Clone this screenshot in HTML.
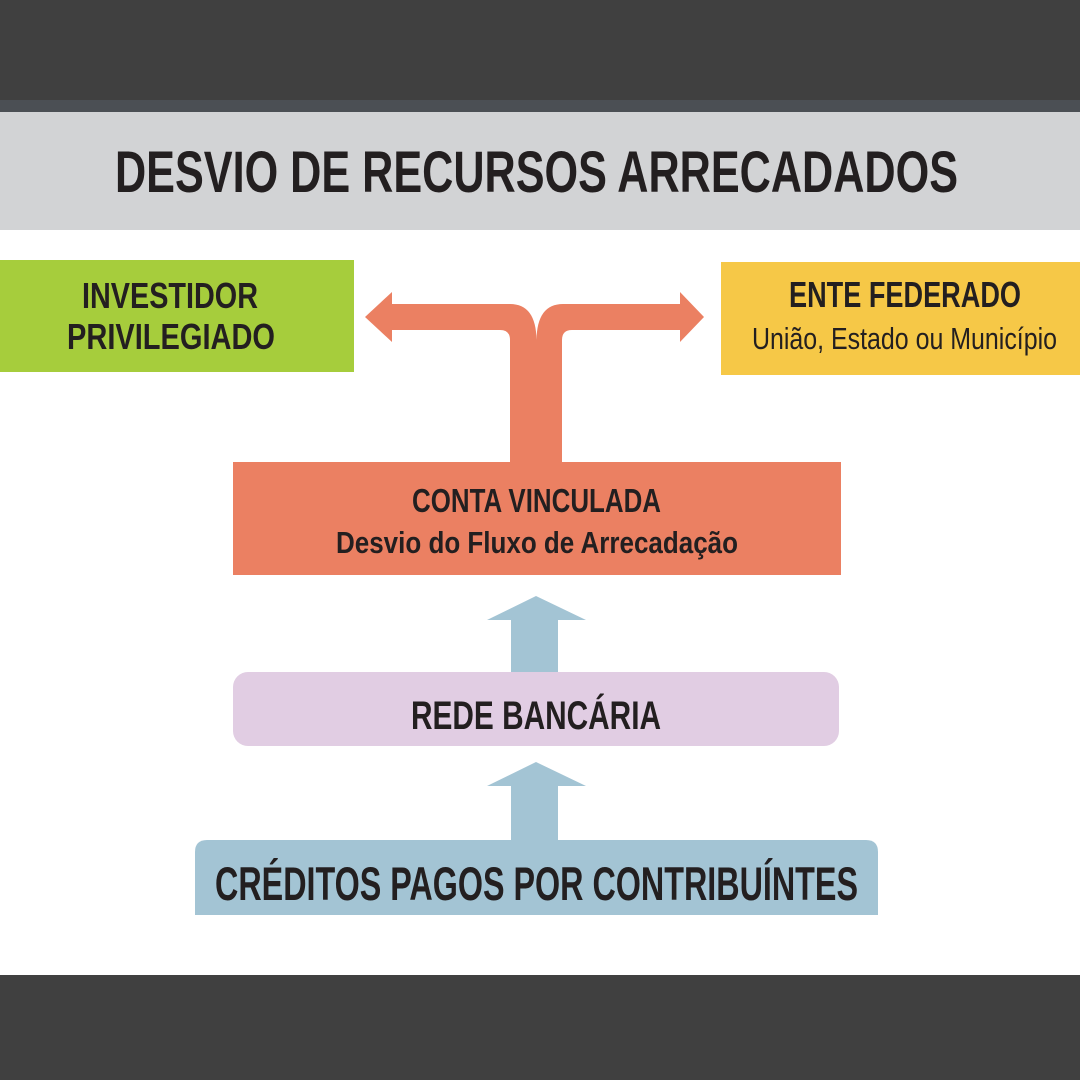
<!DOCTYPE html>
<html><head><meta charset="utf-8"><style>
html,body{margin:0;padding:0;background:#fff}
svg{display:block}
text{font-family:"Liberation Sans Narrow","Liberation Sans",sans-serif;fill:#231f20}
.b{font-weight:bold}
</style></head><body>
<svg width="1080" height="1080" viewBox="0 0 1080 1080" xmlns="http://www.w3.org/2000/svg">
<rect x="0" y="0" width="1080" height="1080" fill="#fff"/>
<rect x="0" y="0" width="1080" height="100" fill="#404040"/>
<rect x="0" y="100" width="1080" height="12" fill="#4b4f54"/>
<rect x="0" y="112" width="1080" height="118" fill="#d2d3d5"/>
<rect x="0" y="975" width="1080" height="105" fill="#404040"/>
<text class="b" x="115" y="192" font-size="58" textLength="843" lengthAdjust="spacingAndGlyphs">DESVIO DE RECURSOS ARRECADADOS</text>

<rect x="0" y="260" width="354" height="112" fill="#a6cd3c"/>
<text class="b" x="82" y="308" font-size="36" textLength="176" lengthAdjust="spacingAndGlyphs">INVESTIDOR</text>
<text class="b" x="67" y="349" font-size="36" textLength="208" lengthAdjust="spacingAndGlyphs">PRIVILEGIADO</text>

<rect x="721" y="262" width="359" height="113" fill="#f6c847"/>
<text class="b" x="789" y="307" font-size="36" textLength="232" lengthAdjust="spacingAndGlyphs">ENTE FEDERADO</text>
<text x="752" y="349" font-size="31" textLength="305" lengthAdjust="spacingAndGlyphs">União, Estado ou Município</text>

<g fill="#eb8062">
<path d="M365 317 L392 292 L392 304 L510 304 Q536 304 536.5 340 L536.5 470 L510 470 L510 340 Q510 330 500 330 L392 330 L392 342 Z"/>
<path d="M704 317 L680 292 L680 304 L563 304 Q537 304 536.5 340 L536.5 470 L562 470 L562 340 Q562 330 572 330 L680 330 L680 342 Z"/>
<rect x="510" y="340" width="52" height="130"/>
<rect x="233" y="462" width="608" height="113"/>
</g>
<text class="b" x="412" y="512" font-size="33" textLength="249" lengthAdjust="spacingAndGlyphs">CONTA VINCULADA</text>
<text class="b" x="336" y="553" font-size="31" textLength="402" lengthAdjust="spacingAndGlyphs">Desvio do Fluxo de Arrecadação</text>

<g fill="#a3c4d4">
<path d="M536 596 L586 620 L558 620 L558 673 L511 673 L511 620 L487 620 Z"/>
<path d="M536 762 L586 786 L558 786 L558 841 L511 841 L511 786 L487 786 Z"/>
<path d="M195 915 L195 852 Q195 840 207 840 L866 840 Q878 840 878 852 L878 915 Z"/>
</g>
<rect x="233" y="672" width="606" height="74" rx="15" fill="#e1cde3"/>
<text class="b" x="411" y="729" font-size="40" textLength="250" lengthAdjust="spacingAndGlyphs">REDE BANCÁRIA</text>
<text class="b" x="215" y="900" font-size="47" textLength="643" lengthAdjust="spacingAndGlyphs">CRÉDITOS PAGOS POR CONTRIBUÍNTES</text>
</svg>
</body></html>
